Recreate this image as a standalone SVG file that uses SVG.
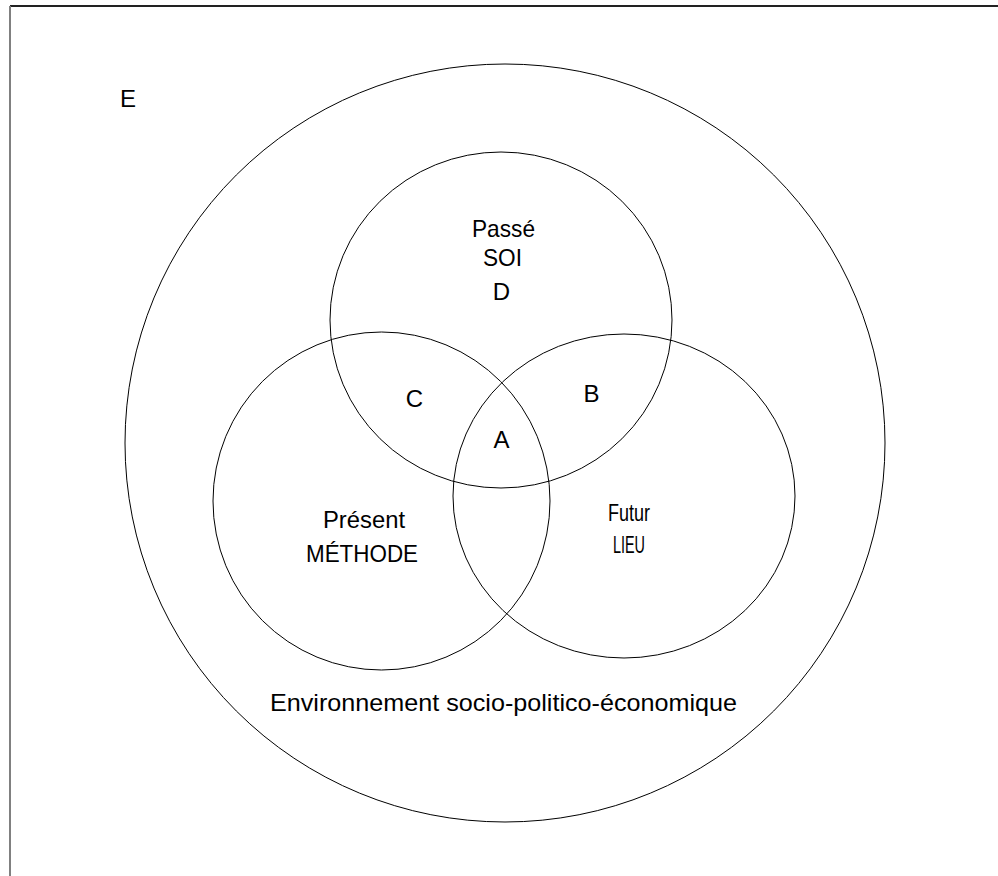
<svg xmlns="http://www.w3.org/2000/svg" width="998" height="876" viewBox="0 0 998 876">
<style>
.c{fill:none;stroke:#000;stroke-width:1}
.t{font-family:"Liberation Sans",Arial,sans-serif;font-size:24px;fill:#000;text-anchor:middle}
</style>
<rect x="0" y="0" width="998" height="876" fill="#fff"/>
<g id="frame">
<line x1="10" y1="6" x2="998" y2="6" stroke="#222" stroke-width="2"/>
<line x1="10" y1="6" x2="10" y2="876" stroke="#808080" stroke-width="2"/>
</g>
<g id="environment">
<ellipse class="c" cx="505" cy="443" rx="380" ry="379"/>
<text class="t" x="120" y="107" style="text-anchor:start">E</text>
<text class="t" x="503.5" y="711" textLength="467" lengthAdjust="spacingAndGlyphs">Environnement socio-politico-économique</text>
</g>
<g id="passe">
<ellipse class="c" cx="501" cy="320" rx="171" ry="168"/>
<text class="t" x="503.5" y="237" textLength="63" lengthAdjust="spacingAndGlyphs">Passé</text>
<text class="t" x="502.5" y="266" textLength="39" lengthAdjust="spacingAndGlyphs">SOI</text>
<text class="t" x="501.5" y="300">D</text>
</g>
<g id="present">
<ellipse class="c" cx="381.5" cy="501" rx="168.5" ry="169"/>
<text class="t" x="364" y="528" textLength="82" lengthAdjust="spacingAndGlyphs">Présent</text>
<text class="t" x="362" y="562" textLength="112" lengthAdjust="spacingAndGlyphs">MÉTHODE</text>
</g>
<g id="futur">
<ellipse class="c" cx="624" cy="496" rx="171" ry="162"/>
<text class="t" x="629" y="521" textLength="42" lengthAdjust="spacingAndGlyphs">Futur</text>
<text class="t" x="629" y="553" textLength="32" lengthAdjust="spacingAndGlyphs">LIEU</text>
</g>
<g id="intersections">
<text class="t" x="414.5" y="407">C</text>
<text class="t" x="591.5" y="402">B</text>
<text class="t" x="501.5" y="448">A</text>
</g>
</svg>
